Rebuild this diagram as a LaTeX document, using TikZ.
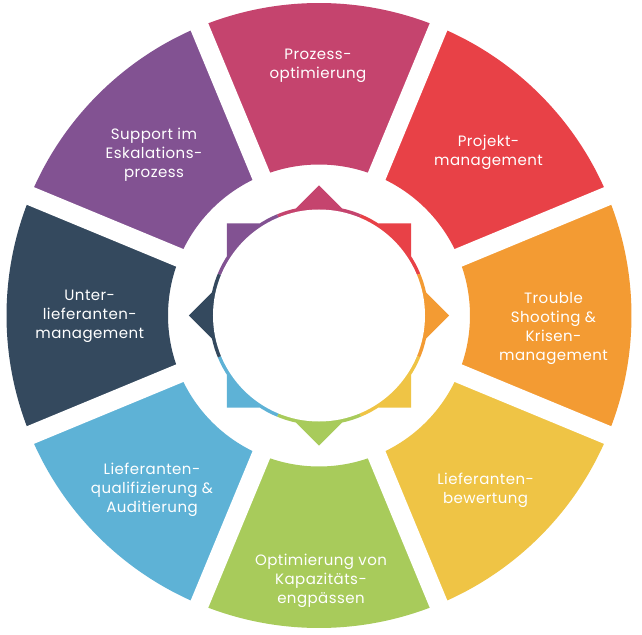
\documentclass[tikz,border=0pt]{standalone}
\usepackage{fontspec}
\setmainfont{Poppins}
\usepackage{xcolor}
\usepackage{tikz}
\definecolor{ringPink}{RGB}{197,68,110}
\definecolor{ringRed}{RGB}{232,65,71}
\definecolor{ringOrange}{RGB}{243,155,51}
\definecolor{ringYellow}{RGB}{239,196,69}
\definecolor{ringGreen}{RGB}{168,203,91}
\definecolor{ringBlue}{RGB}{94,178,214}
\definecolor{ringDark}{RGB}{52,73,94}
\definecolor{ringPurple}{RGB}{130,82,146}
\tikzset{
  gapline/.style={draw=white, line width=19pt},
  seglabel/.style={text=white, align=center, inner sep=0pt,
    font=\fontsize{15}{19}\selectfont\addfontfeature{LetterSpace=3}},
}

\begin{document}
\begin{tikzpicture}[x=1pt, y=1pt]
  \useasboundingbox[fill=white] (-319,-318.5) rectangle (323,315.5);

  % outer ring segments
  \fill[ringPink] (67.5:151pt) arc[start angle=67.5, end angle=112.5, radius=151pt] -- (112.5:312.5pt) arc[start angle=112.5, end angle=67.5, radius=312.5pt] -- cycle;
  \fill[ringRed] (22.5:151pt) arc[start angle=22.5, end angle=67.5, radius=151pt] -- (67.5:312.5pt) arc[start angle=67.5, end angle=22.5, radius=312.5pt] -- cycle;
  \fill[ringOrange] (-22.5:151pt) arc[start angle=-22.5, end angle=22.5, radius=151pt] -- (22.5:312.5pt) arc[start angle=22.5, end angle=-22.5, radius=312.5pt] -- cycle;
  \fill[ringYellow] (-67.5:151pt) arc[start angle=-67.5, end angle=-22.5, radius=151pt] -- (-22.5:312.5pt) arc[start angle=-22.5, end angle=-67.5, radius=312.5pt] -- cycle;
  \fill[ringGreen] (-112.5:151pt) arc[start angle=-112.5, end angle=-67.5, radius=151pt] -- (-67.5:312.5pt) arc[start angle=-67.5, end angle=-112.5, radius=312.5pt] -- cycle;
  \fill[ringBlue] (-157.5:151pt) arc[start angle=-157.5, end angle=-112.5, radius=151pt] -- (-112.5:312.5pt) arc[start angle=-112.5, end angle=-157.5, radius=312.5pt] -- cycle;
  \fill[ringDark] (157.5:151pt) arc[start angle=157.5, end angle=202.5, radius=151pt] -- (202.5:312.5pt) arc[start angle=202.5, end angle=157.5, radius=312.5pt] -- cycle;
  \fill[ringPurple] (112.5:151pt) arc[start angle=112.5, end angle=157.5, radius=151pt] -- (157.5:312.5pt) arc[start angle=157.5, end angle=112.5, radius=312.5pt] -- cycle;

  % white gaps between the segments
  \draw[gapline] (22.5:140pt) -- (22.5:330pt)  (67.5:140pt) -- (67.5:330pt)
    (112.5:140pt) -- (112.5:330pt)  (157.5:140pt) -- (157.5:330pt)
    (202.5:140pt) -- (202.5:330pt)  (247.5:140pt) -- (247.5:330pt)
    (292.5:140pt) -- (292.5:330pt)  (337.5:140pt) -- (337.5:330pt);

  % star and coloured rim in the middle
  \begin{scope}
    \clip (92,-92) -- (92,92) -- (-92,92) -- (-92,-92) -- cycle
      (130,0) -- (0,130) -- (-130,0) -- (0,-130) -- cycle
      (0,0) circle[radius=109.5pt];
    \fill[ringPink] (0,0) -- (67.5:140pt) arc[start angle=67.5, end angle=112.5, radius=140pt] -- cycle;
    \fill[ringRed] (0,0) -- (22.5:140pt) arc[start angle=22.5, end angle=67.5, radius=140pt] -- cycle;
    \fill[ringOrange] (0,0) -- (-22.5:140pt) arc[start angle=-22.5, end angle=22.5, radius=140pt] -- cycle;
    \fill[ringYellow] (0,0) -- (-67.5:140pt) arc[start angle=-67.5, end angle=-22.5, radius=140pt] -- cycle;
    \fill[ringGreen] (0,0) -- (-112.5:140pt) arc[start angle=-112.5, end angle=-67.5, radius=140pt] -- cycle;
    \fill[ringBlue] (0,0) -- (-157.5:140pt) arc[start angle=-157.5, end angle=-112.5, radius=140pt] -- cycle;
    \fill[ringDark] (0,0) -- (157.5:140pt) arc[start angle=157.5, end angle=202.5, radius=140pt] -- cycle;
    \fill[ringPurple] (0,0) -- (112.5:140pt) arc[start angle=112.5, end angle=157.5, radius=140pt] -- cycle;
  \end{scope}
  \fill[white] (0,0) circle[radius=106pt];

  % labels
  \node[seglabel] (prozess) at (-1,250) {Prozess-\\optimierung};
  \node[seglabel] (projekt) at (169.5,163.5) {Projekt-\\management};
  \node[seglabel] (trouble) at (234.5,-12.5) {Trouble\\Shooting \&\\Krisen-\\management};
  \node[seglabel] (bewertung) at (166.6,-175) {Lieferanten-\\bewertung};
  \node[seglabel] (kapazitaet) at (2,-265.5) {Optimierung von\\Kapazitäts-\\engpässen};
  \node[seglabel] (qualifizierung) at (-167,-174.5) {Lieferanten-\\qualifizierung \&\\Auditierung};
  \node[seglabel] (unter) at (-229.3,-0.3) {Unter-\\lieferanten-\\management};
  \node[seglabel] (support) at (-165,161) {Support im\\Eskalations-\\prozess};
\end{tikzpicture}
\end{document}
